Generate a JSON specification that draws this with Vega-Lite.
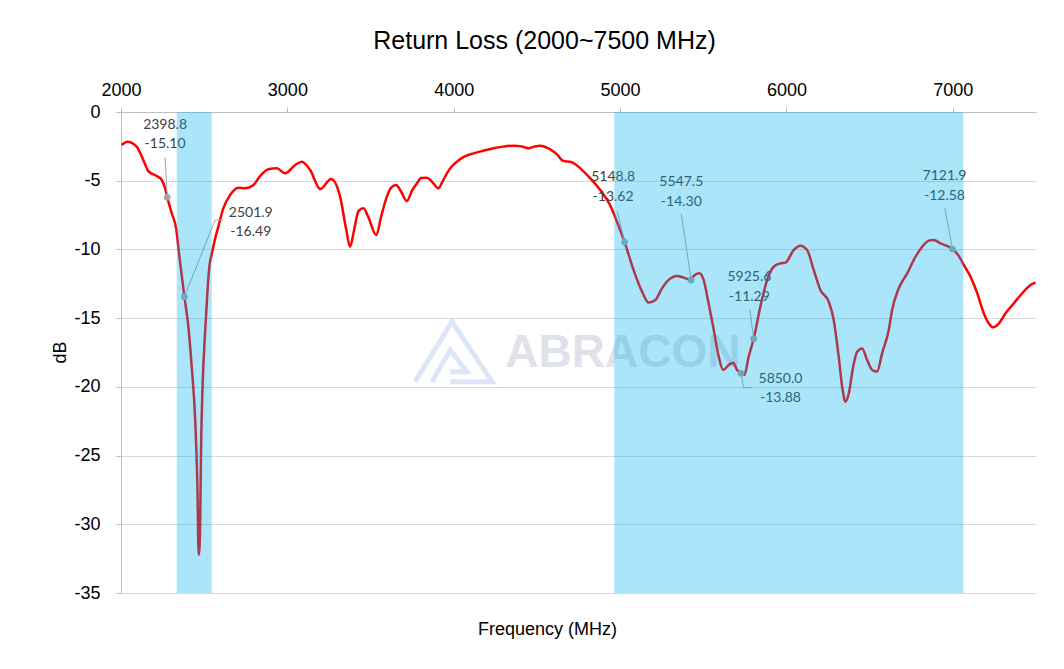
{
  "$schema": "https://vega.github.io/schema/vega-lite/v6.json",
  "width": 915,
  "height": 481,
  "autosize": "none",
  "padding": {"left": 121, "top": 112, "right": 28, "bottom": 76},
  "background": "white",
  "config": {"view": {"stroke": null}},
  "title": {"text": "Return Loss (2000~7500 MHz)", "font": "Liberation Sans", "fontSize": 25, "fontWeight": "normal", "color": "#000000", "anchor": "middle", "dx": -34, "offset": 27},
  "datasets": {
    "curve": [
      {"f": 2004, "db": -2.40}, {"f": 2038, "db": -2.16}, {"f": 2094, "db": -2.52}, {"f": 2134, "db": -3.49},
      {"f": 2164, "db": -4.30}, {"f": 2215, "db": -4.66}, {"f": 2245, "db": -4.95}, {"f": 2265, "db": -5.55},
      {"f": 2278, "db": -6.21}, {"f": 2305, "db": -7.37}, {"f": 2333, "db": -8.6}, {"f": 2346, "db": -10.0},
      {"f": 2364, "db": -11.8}, {"f": 2381, "db": -13.44}, {"f": 2405, "db": -15.62}, {"f": 2425, "db": -18.53},
      {"f": 2445, "db": -22.17}, {"f": 2459, "db": -27.02}, {"f": 2467, "db": -32.23}, {"f": 2475, "db": -30.66},
      {"f": 2481, "db": -24.59}, {"f": 2491, "db": -19.74}, {"f": 2505, "db": -16.1}, {"f": 2519, "db": -13.19},
      {"f": 2531, "db": -11.26}, {"f": 2546, "db": -10.3}, {"f": 2562, "db": -9.4}, {"f": 2585, "db": -8.34},
      {"f": 2615, "db": -7.01}, {"f": 2656, "db": -6.04}, {"f": 2706, "db": -5.51}, {"f": 2746, "db": -5.55},
      {"f": 2796, "db": -5.31}, {"f": 2836, "db": -4.66}, {"f": 2886, "db": -4.17}, {"f": 2937, "db": -4.10},
      {"f": 2986, "db": -4.46}, {"f": 3047, "db": -3.86}, {"f": 3087, "db": -3.62}, {"f": 3137, "db": -4.22},
      {"f": 3197, "db": -5.6}, {"f": 3263, "db": -4.87}, {"f": 3317, "db": -6.16}, {"f": 3353, "db": -8.5},
      {"f": 3377, "db": -9.80}, {"f": 3401, "db": -8.6}, {"f": 3428, "db": -7.2}, {"f": 3457, "db": -7.01},
      {"f": 3485, "db": -7.6}, {"f": 3534, "db": -8.95}, {"f": 3564, "db": -7.6}, {"f": 3598, "db": -6.16},
      {"f": 3624, "db": -5.5}, {"f": 3654, "db": -5.31}, {"f": 3684, "db": -5.8}, {"f": 3718, "db": -6.48},
      {"f": 3750, "db": -5.7}, {"f": 3779, "db": -5.19}, {"f": 3804, "db": -4.8}, {"f": 3839, "db": -4.78},
      {"f": 3871, "db": -5.1}, {"f": 3908, "db": -5.55}, {"f": 3931, "db": -5.1}, {"f": 3959, "db": -4.46},
      {"f": 3985, "db": -4.0}, {"f": 4019, "db": -3.62}, {"f": 4063, "db": -3.25}, {"f": 4119, "db": -3.01},
      {"f": 4177, "db": -2.82}, {"f": 4239, "db": -2.64}, {"f": 4298, "db": -2.52}, {"f": 4360, "db": -2.45},
      {"f": 4406, "db": -2.5}, {"f": 4450, "db": -2.64}, {"f": 4484, "db": -2.52}, {"f": 4520, "db": -2.45},
      {"f": 4550, "db": -2.55}, {"f": 4580, "db": -2.72}, {"f": 4622, "db": -3.1}, {"f": 4660, "db": -3.57},
      {"f": 4700, "db": -3.62}, {"f": 4731, "db": -3.8}, {"f": 4761, "db": -4.10}, {"f": 4821, "db": -4.83},
      {"f": 4881, "db": -5.68}, {"f": 4941, "db": -6.8}, {"f": 4991, "db": -8.3}, {"f": 5027, "db": -9.46},
      {"f": 5081, "db": -11.5}, {"f": 5132, "db": -13.07}, {"f": 5172, "db": -13.87}, {"f": 5212, "db": -13.68},
      {"f": 5252, "db": -12.83}, {"f": 5292, "db": -12.22}, {"f": 5342, "db": -11.93}, {"f": 5382, "db": -12.05},
      {"f": 5427, "db": -12.22}, {"f": 5442, "db": -11.93}, {"f": 5477, "db": -11.74}, {"f": 5502, "db": -12.22},
      {"f": 5532, "db": -13.92}, {"f": 5563, "db": -15.86}, {"f": 5593, "db": -17.80}, {"f": 5619, "db": -18.77},
      {"f": 5653, "db": -18.41}, {"f": 5679, "db": -18.24}, {"f": 5703, "db": -18.77}, {"f": 5727, "db": -19.01},
      {"f": 5747, "db": -19.14}, {"f": 5773, "db": -17.80}, {"f": 5803, "db": -16.50}, {"f": 5843, "db": -14.17},
      {"f": 5884, "db": -12.22}, {"f": 5923, "db": -11.26}, {"f": 5964, "db": -11.01}, {"f": 5994, "db": -10.96},
      {"f": 6044, "db": -10.04}, {"f": 6084, "db": -9.73}, {"f": 6124, "db": -10.04}, {"f": 6164, "db": -11.5},
      {"f": 6204, "db": -12.95}, {"f": 6254, "db": -13.80}, {"f": 6284, "db": -15.13}, {"f": 6314, "db": -17.80},
      {"f": 6335, "db": -19.99}, {"f": 6355, "db": -21.08}, {"f": 6375, "db": -20.47}, {"f": 6401, "db": -18.53},
      {"f": 6425, "db": -17.44}, {"f": 6455, "db": -17.20}, {"f": 6485, "db": -18.05}, {"f": 6515, "db": -18.77},
      {"f": 6545, "db": -18.89}, {"f": 6575, "db": -17.56}, {"f": 6615, "db": -15.86}, {"f": 6635, "db": -14.41},
      {"f": 6675, "db": -12.83}, {"f": 6726, "db": -11.74}, {"f": 6776, "db": -10.53}, {"f": 6816, "db": -9.80},
      {"f": 6856, "db": -9.36}, {"f": 6886, "db": -9.31}, {"f": 6926, "db": -9.56}, {"f": 6966, "db": -9.75},
      {"f": 6998, "db": -9.97}, {"f": 7036, "db": -10.48}, {"f": 7066, "db": -11.13}, {"f": 7106, "db": -11.98},
      {"f": 7147, "db": -13.19}, {"f": 7186, "db": -14.65}, {"f": 7216, "db": -15.38}, {"f": 7243, "db": -15.67},
      {"f": 7277, "db": -15.38}, {"f": 7317, "db": -14.65}, {"f": 7367, "db": -13.92}, {"f": 7417, "db": -13.19},
      {"f": 7467, "db": -12.59}, {"f": 7497, "db": -12.39}
    ],
    "pts": [
      {"f": 2278, "db": -6.21}, {"f": 2381, "db": -13.44}, {"f": 5027, "db": -9.46}, {"f": 5427, "db": -12.22},
      {"f": 5803, "db": -16.50}, {"f": 5727, "db": -19.01}, {"f": 6998, "db": -9.97}
    ],
    "leaders": [
      {"id": 1, "o": 1, "f": 2265, "db": -3.30}, {"id": 1, "o": 2, "f": 2278, "db": -6.21},
      {"id": 2, "o": 1, "f": 2615, "db": -7.86}, {"id": 2, "o": 2, "f": 2565, "db": -7.86}, {"id": 2, "o": 3, "f": 2381, "db": -13.44},
      {"id": 3, "o": 1, "f": 4983, "db": -7.25}, {"id": 3, "o": 2, "f": 5027, "db": -9.46},
      {"id": 4, "o": 1, "f": 5368, "db": -7.42}, {"id": 4, "o": 2, "f": 5427, "db": -12.22},
      {"id": 5, "o": 1, "f": 5779, "db": -14.36}, {"id": 5, "o": 2, "f": 5803, "db": -16.50},
      {"id": 6, "o": 1, "f": 5794, "db": -20.06}, {"id": 6, "o": 2, "f": 5743, "db": -20.06}, {"id": 6, "o": 3, "f": 5727, "db": -19.01},
      {"id": 7, "o": 1, "f": 6952, "db": -7.01}, {"id": 7, "o": 2, "f": 6998, "db": -9.97}
    ],
    "labels": [
      {"f": 2265, "db": -0.95, "t": "2398.8"}, {"f": 2265, "db": -2.33, "t": "-15.10"},
      {"f": 2780, "db": -7.33, "t": "2501.9"}, {"f": 2780, "db": -8.71, "t": "-16.49"},
      {"f": 4958, "db": -4.75, "t": "5148.8"}, {"f": 4958, "db": -6.16, "t": "-13.62"},
      {"f": 5368, "db": -5.12, "t": "5547.5"}, {"f": 5368, "db": -6.53, "t": "-14.30"},
      {"f": 5777, "db": -11.98, "t": "5925.6"}, {"f": 5777, "db": -13.44, "t": "-11.29"},
      {"f": 5964, "db": -19.45, "t": "5850.0"}, {"f": 5964, "db": -20.83, "t": "-13.88"},
      {"f": 6950, "db": -4.66, "t": "7121.9"}, {"f": 6950, "db": -6.11, "t": "-12.58"}
    ],
    "shade": [
      {"f": 2335, "f2": 2545, "db": 0, "db2": -35},
      {"f": 4965, "f2": 7063, "db": 0, "db2": -35}
    ],
    "wm": [{"f": 5017, "db": -18.53, "t": "ABRACON"}],
    "logo": [
      {"id": 1, "o": 1, "f": 3768, "db": -19.62}, {"id": 1, "o": 2, "f": 3989, "db": -15.26},
      {"id": 1, "o": 3, "f": 4230, "db": -19.62}, {"id": 1, "o": 4, "f": 3979, "db": -19.62},
      {"id": 2, "o": 1, "f": 3869, "db": -19.62}, {"id": 2, "o": 2, "f": 3979, "db": -17.32},
      {"id": 2, "o": 3, "f": 4079, "db": -18.90}, {"id": 2, "o": 4, "f": 3979, "db": -18.90}
    ]
  },
  "encoding": {
    "x": {
      "field": "f", "type": "quantitative",
      "scale": {"domain": [2000, 7500], "nice": false, "zero": false},
      "axis": {
        "orient": "top", "values": [2000, 3000, 4000, 5000, 6000, 7000], "grid": false,
        "labelFlush": false, "labelOverlap": false, "labelExpr": "'' + datum.value",
        "domainColor": "#BFBFBF", "tickColor": "#BFBFBF", "tickSize": 5, "labelPadding": 8,
        "labelFont": "Liberation Sans", "labelFontSize": 18, "labelColor": "#000000",
        "title": "Frequency (MHz)", "titleFont": "Liberation Sans", "titleFontSize": 18, "titleFontWeight": "normal",
        "titleColor": "#000000", "titleX": 426, "titleY": 517, "titleBaseline": "middle", "titleAlign": "center"
      }
    },
    "y": {
      "field": "db", "type": "quantitative",
      "scale": {"domain": [-35, 0], "nice": false, "zero": false},
      "axis": {
        "values": [0, -5, -10, -15, -20, -25, -30, -35], "grid": true, "gridColor": "#D9D9D9", "gridWidth": 1,
        "labelFlush": false, "labelOverlap": false, "labelExpr": "'' + datum.value",
        "domainColor": "#BFBFBF", "tickColor": "#BFBFBF", "tickSize": 5, "labelPadding": 16,
        "labelFont": "Liberation Sans", "labelFontSize": 18, "labelColor": "#000000",
        "title": "dB", "titleFont": "Liberation Sans", "titleFontSize": 18, "titleFontWeight": "normal",
        "titleColor": "#000000", "titleX": -61, "titleY": 240, "titleBaseline": "middle", "titleAlign": "center"
      }
    }
  },
  "layer": [
    {
      "data": {"name": "wm"},
      "mark": {"type": "text", "font": "Liberation Sans", "fontSize": 46, "fontWeight": "bold", "color": "#DFE2EB", "align": "center", "baseline": "alphabetic"},
      "encoding": {"text": {"field": "t"}}
    },
    {
      "data": {"name": "logo"},
      "mark": {"type": "line", "color": "#DCE6F7", "strokeWidth": 5, "strokeJoin": "miter"},
      "encoding": {"detail": {"field": "id"}, "order": {"field": "o"}}
    },
    {
      "data": {"name": "curve"},
      "mark": {"type": "line", "color": "#FF0000", "strokeWidth": 2.5, "interpolate": "monotone"},
      "encoding": {}
    },
    {
      "data": {"name": "leaders"},
      "mark": {"type": "line", "color": "#A5A5A5", "strokeWidth": 1},
      "encoding": {"detail": {"field": "id"}, "order": {"field": "o"}}
    },
    {
      "data": {"name": "pts"},
      "mark": {"type": "circle", "color": "#A5A5A5", "opacity": 1, "size": 45},
      "encoding": {}
    },
    {
      "data": {"name": "labels"},
      "mark": {"type": "text", "font": "Lato", "fontSize": 14, "color": "#404040", "align": "center", "baseline": "middle"},
      "encoding": {"text": {"field": "t"}}
    },
    {
      "data": {"name": "shade"},
      "mark": {"type": "rect", "color": "#00B0F0", "opacity": 0.33},
      "encoding": {"x2": {"field": "f2"}, "y2": {"field": "db2"}}
    }
  ]
}
